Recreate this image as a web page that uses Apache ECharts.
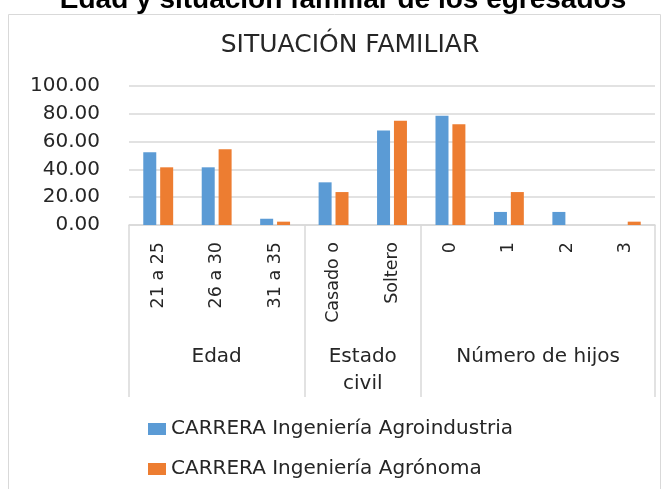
<!DOCTYPE html>
<html><head><meta charset="utf-8">
<script src="https://cdn.jsdelivr.net/npm/echarts@6/dist/echarts.min.js"></script>
<style>html,body{margin:0;padding:0;background:#fff}#c{width:672px;height:489px}</style>
</head><body><div id="c"></div>
<script>
const categories = ['21 a 25','26 a 30','31 a 35','Casado o','Soltero','0','1','2','3'];
const groups = ['Edad','Estado\ncivil','Número de hijos'];
const groupCenters = [1.5, 4, 7];
const groupBounds = [0, 3, 5, 9];
const seriesNames = ['CARRERA Ingeniería Agroindustria','CARRERA Ingeniería Agrónoma'];
const agroindustria = [52.4, 41.5, 4.5, 30.7, 67.9, 78.6, 9.4, 9.4, 0];
const agronoma = [41.5, 54.5, 2.4, 23.7, 75.0, 72.4, 23.7, 0, 2.4];
const yTicks = [0, 20, 40, 60, 80, 100];

const font = '"DejaVu Sans", sans-serif';
const chart = echarts.init(document.getElementById('c'), null, {renderer:'canvas'});
chart.setOption({
  animation:false,
  graphic:[{type:'rect', shape:{x:8.5,y:14.5,width:652,height:500}, style:{fill:'none', stroke:'#D9D9D9', lineWidth:1}, z:-1}],
  title:[
    {text:'Edad y situación familiar de los egresados', left:338, textAlign:'center', top:-19,
     textStyle:{fontFamily:'"Liberation Sans", Arial, sans-serif', fontWeight:'bold', fontSize:28, color:'#000'}},
    {text:'SITUACIÓN FAMILIAR', left:345, textAlign:'center', top:28,
     textStyle:{fontFamily:font, fontWeight:'normal', fontSize:25, color:'#262626'}}
  ],
  legend:{orient:'vertical', left:143, top:414, itemWidth:18, itemHeight:12, itemGap:20, icon:'rect',
    textStyle:{fontFamily:font, fontSize:20, color:'#262626'}, data:seriesNames},
  grid:{left:129, right:17, top:86, bottom:264, containLabel:false},
  xAxis:[
    {type:'category', data:categories, axisLine:{show:false}, axisTick:{show:false},
     axisLabel:{rotate:90, margin:17, fontFamily:font, fontSize:17.5, color:'#262626'}},
    {type:'value', min:0, max:9, position:'bottom',
     axisLine:{show:true, lineStyle:{color:'#D9D9D9', width:1.5}},
     splitLine:{show:false},
     axisTick:{show:true, customValues:groupBounds, length:172, lineStyle:{color:'#D9D9D9', width:1.5}},
     axisLabel:{customValues:groupCenters, margin:118, fontFamily:font, fontSize:20, color:'#262626', lineHeight:27,
       formatter:(v)=>{const i=groupCenters.indexOf(v); return i>=0?groups[i]:'';}}}
  ],
  yAxis:{type:'value', min:0, max:100, interval:20,
    axisLabel:{formatter:(v)=>v.toFixed(2), fontFamily:font, fontSize:20, color:'#262626', margin:29, customValues:yTicks},
    axisLine:{show:false}, axisTick:{show:false},
    splitLine:{lineStyle:{color:'#D9D9D9', width:1.5}}},
  series:[
    {name:seriesNames[0], type:'bar', data:agroindustria, barWidth:13, barGap:'30%',
     itemStyle:{color:'#5B9BD5'}},
    {name:seriesNames[1], type:'bar', data:agronoma, barWidth:13, barGap:'30%',
     itemStyle:{color:'#ED7D31'}}
  ]
});
</script></body></html>
